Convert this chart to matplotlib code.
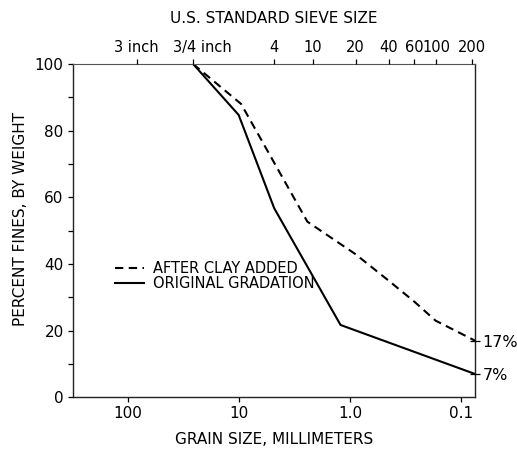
#!/usr/bin/env python3
"""
Grain-size gradation curves before and after adding clay.
"""

import matplotlib

matplotlib.use("Agg")
import matplotlib.pyplot as plt
from matplotlib.ticker import FixedLocator, NullLocator
from matplotlib.transforms import ScaledTranslation


OUTPUT_FIG = "out.png"

# Original gradation (grain size in mm, percent finer by weight)
ORIGINAL_MM = [26.0, 10.1, 4.83, 1.22, 0.075]
ORIGINAL_PCT = [100, 84.7, 56.7, 21.7, 7]

# Gradation after clay was added
CLAY_MM = [26.0, 9.6, 2.43, 0.9, 0.45, 0.26, 0.17, 0.075]
CLAY_PCT = [100, 88.0, 52.7, 43.0, 35.0, 28.5, 23.0, 17]

# U.S. standard sieve positions along the top axis (mm)
SIEVE_MM = [84.0, 26.0, 4.9, 2.16, 0.895, 0.45, 0.265, 0.168, 0.0805]
SIEVE_LABELS = ["3 inch", "3/4 inch", "4", "10", "20", "40", "60", "100", "200"]

GRAIN_TICKS = [100, 10, 1.0, 0.1]
GRAIN_TICK_LABELS = ["100", "10", "1.0", "0.1"]

PCT_MAJOR = [0, 20, 40, 60, 80, 100]
PCT_MINOR = [10, 30, 50, 70, 90]

X_LIMITS = (316.0, 0.075)
Y_LIMITS = (0, 100)

LABEL_FONTSIZE = 11
TICK_FONTSIZE = 11
TOP_TICK_FONTSIZE = 10.5
LEGEND_FONTSIZE = 10.5


def main() -> None:
    plt.rcParams["font.family"] = ["DejaVu Sans"]
    fig = plt.figure(figsize=(5.17, 4.57), dpi=100)
    ax = fig.add_axes([0.1406, 0.1306, 0.7782, 0.7294])

    ax.plot(CLAY_MM, CLAY_PCT, color="black", linewidth=1.5,
            linestyle=(0, (4, 2.6)), label="AFTER CLAY ADDED")
    ax.plot(ORIGINAL_MM, ORIGINAL_PCT, color="black", linewidth=1.5,
            label="ORIGINAL GRADATION")

    ax.set_xscale("log")
    ax.set_xlim(*X_LIMITS)
    ax.set_ylim(*Y_LIMITS)

    ax.xaxis.set_major_locator(FixedLocator(GRAIN_TICKS))
    ax.xaxis.set_minor_locator(NullLocator())
    ax.set_xticklabels(GRAIN_TICK_LABELS)
    ax.set_yticks(PCT_MAJOR)
    ax.set_yticks(PCT_MINOR, minor=True)
    ax.tick_params(axis="both", which="both", direction="out", length=3.5,
                   width=0.9, labelsize=TICK_FONTSIZE, pad=3)
    ax.tick_params(right=False, top=False)

    for spine in ax.spines.values():
        spine.set_linewidth(1.0)
        spine.set_color("#222222")
    ax.spines["top"].set_color("#555555")
    ax.spines["top"].set_linewidth(0.8)

    ax.set_xlabel("GRAIN SIZE, MILLIMETERS", fontsize=LABEL_FONTSIZE, labelpad=8)
    ax.set_ylabel("PERCENT FINES, BY WEIGHT", fontsize=LABEL_FONTSIZE)
    ax.yaxis.set_label_coords(-0.11, 0.535)

    # Sieve numbers on the top axis
    top = ax.twiny()
    top.set_xscale("log")
    top.set_xlim(*X_LIMITS)
    top.xaxis.set_major_locator(FixedLocator(SIEVE_MM))
    top.xaxis.set_minor_locator(NullLocator())
    top.set_xticklabels(SIEVE_LABELS)
    top.tick_params(axis="x", direction="out", length=3.5, width=0.9,
                    labelsize=TOP_TICK_FONTSIZE, pad=3)
    # the 3/4 inch label sits a little right of its tick
    nudge = ScaledTranslation(0.09, 0, fig.dpi_scale_trans)
    for tick in top.xaxis.get_major_ticks():
        if tick.label2.get_text() == "3/4 inch":
            tick.label2.set_transform(tick.label2.get_transform() + nudge)
    for spine in top.spines.values():
        spine.set_visible(False)
    top.set_xlabel("U.S. STANDARD SIEVE SIZE", fontsize=LABEL_FONTSIZE, labelpad=12)

    # End values marked on the right-hand edge
    right = ax.twinx()
    right.set_ylim(*Y_LIMITS)
    right.set_yticks([CLAY_PCT[-1], ORIGINAL_PCT[-1]])
    right.set_yticklabels([f"{CLAY_PCT[-1]:.0f}%", f"{ORIGINAL_PCT[-1]:.0f}%"])
    right.tick_params(axis="y", direction="inout", length=7, width=0.9,
                      labelsize=11.5, pad=2)
    for spine in right.spines.values():
        spine.set_visible(False)

    ax.legend(loc="lower left", bbox_to_anchor=(0.09, 0.30), frameon=False,
              fontsize=LEGEND_FONTSIZE, handlelength=2.0, handletextpad=0.6,
              labelspacing=0.0, borderaxespad=0)

    fig.savefig(OUTPUT_FIG, dpi=100)
    plt.close(fig)


if __name__ == "__main__":
    main()
